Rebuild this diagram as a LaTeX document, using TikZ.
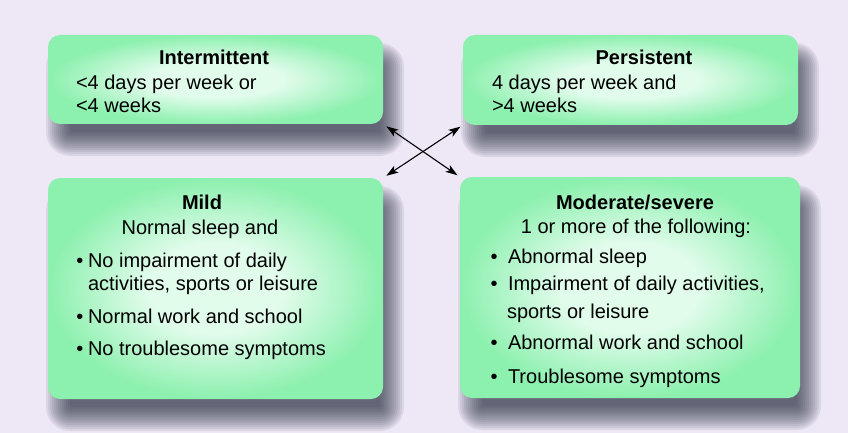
\documentclass[tikz,border=0pt]{standalone}
\usepackage{fontspec}
\setmainfont{Liberation Sans}
\usetikzlibrary{arrows.meta}
\definecolor{bg}{RGB}{237,231,246}
\definecolor{gin}{RGB}{226,252,236}
\definecolor{gout}{RGB}{140,240,174}
\definecolor{shadowc}{RGB}{45,50,68}
\pgfdeclareradialshading{gboxshade}{\pgfpoint{0bp}{0bp}}{color(0bp)=(gin); color(10bp)=(gin); color(25bp)=(gout); color(50bp)=(gout)}
\tikzset{
  gbox/.style={rounded corners=12pt, shade, shading=gboxshade, inner sep=0pt, outer sep=0pt},
  txt/.style={font=\fontsize{20}{24}\selectfont, inner sep=0pt, outer sep=0pt, text=black},
  ttl/.style={txt, font=\fontsize{20}{24}\selectfont\bfseries, anchor=base},
  ln/.style={txt, anchor=base west},
  ctr/.style={txt, anchor=base},
  bul/.style={txt, anchor=base},
  arr/.style={{Stealth[length=12pt,width=8pt,inset=3pt]}-{Stealth[length=12pt,width=8pt,inset=3pt]}, line width=1.1pt, black, shorten <=4pt, shorten >=3pt}
}
\newcommand{\greenbox}[5]{%
  \foreach \e in {-12,-10,...,12}{%
    \pgfmathsetmacro\rr{max(12+(\e),1)}%
    \fill[shadowc,opacity=0.085,rounded corners=\rr pt] ({#2+10-(\e)},{#3+20-(\e)}) rectangle ({#4+9+(\e)},{#5+20+(\e)});
  }%
  \pgfmathsetmacro\bw{#4-#2}%
  \pgfmathsetmacro\bh{#5-#3}%
  \node[gbox, minimum width=\bw pt, minimum height=\bh pt] (#1) at ({(#2+#4)/2},{(#3+#5)/2}) {};
}
\begin{document}
\begin{tikzpicture}[x=1pt,y=-1pt]
\fill[bg] (0,0) rectangle (848,433);
\useasboundingbox (0,0) rectangle (848,433);

\greenbox{int}{48}{35}{383}{124}
\greenbox{per}{463}{35}{798}{125}
\greenbox{mild}{48}{178}{383}{399}
\greenbox{mod}{460}{177}{800}{398}

% Intermittent
\node[ttl] (intT) at (214,65) {Intermittent};
\node[ln] (intA) at (76,90) {<4 days per week or};
\node[ln] (intB) at (76,113) {<4 weeks};

% Persistent
\node[ttl] (perT) at (644,65) {Persistent};
\node[ln] (perA) at (492,90) {4 days per week and};
\node[ln] (perB) at (492,113) {>4 weeks};

% Mild
\node[ttl] (mildT) at (202,209) {Mild};
\node[ctr] (mildS) at (200,234) {Normal sleep and};
\node[bul] (mb1) at (80,267) {•};
\node[ln] (mildA) at (88,267) {No impairment of daily};
\node[ln] (mildA2) at (88,290) {activities, sports or leisure};
\node[bul] (mb2) at (80,323) {•};
\node[ln] (mildB) at (88,323) {Normal work and school};
\node[bul] (mb3) at (80,355) {•};
\node[ln] (mildC) at (88,355) {No troublesome symptoms};

% Moderate/severe
\node[ttl] (modT) at (635,209) {Moderate/severe};
\node[ctr] (modS) at (636,233) {1 or more of the following:};
\node[bul] (ob1) at (494,263) {•};
\node[ln] (modA) at (508,263) {Abnormal sleep};
\node[bul] (ob2) at (494,290) {•};
\node[ln] (modB) at (508,290) {Impairment of daily activities,};
\node[ln] (modB2) at (507,318) {sports or leisure};
\node[bul] (ob3) at (494,349) {•};
\node[ln] (modC) at (508,349) {Abnormal work and school};
\node[bul] (ob4) at (494,383) {•};
\node[ln] (modD) at (508,383) {Troublesome symptoms};

% crossing arrows
\draw[arr] (int.south east) -- (mod.north west);
\draw[arr] (mild.north east) -- (per.south west);
\end{tikzpicture}
\end{document}
